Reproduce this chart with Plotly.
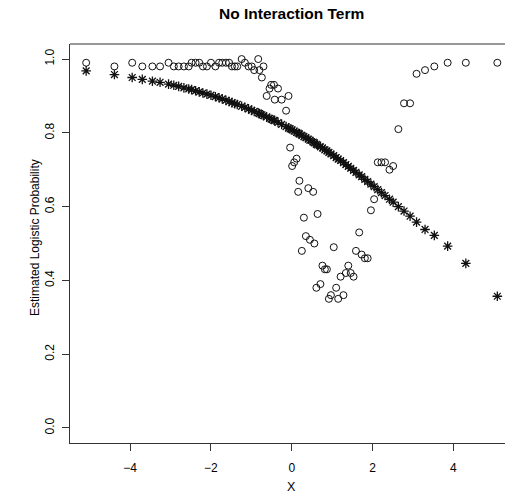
import plotly.graph_objects as go

# X values shared by both series
x_vals = [-5.09, -4.39, -3.95, -3.70, -3.45, -3.26, -3.05, -2.92, -2.80, -2.67,
          -2.55, -2.48, -2.38, -2.29, -2.20, -2.10, -2.00, -1.89, -1.80, -1.72,
          -1.63, -1.55, -1.48, -1.41, -1.35, -1.24, -1.16, -1.07, -0.99, -0.93,
          -0.83, -0.80, -0.74, -0.70, -0.62, -0.55, -0.51, -0.44, -0.42, -0.34,
          -0.25, -0.14, -0.08, -0.04, 0.01, 0.06, 0.12, 0.16, 0.19, 0.25,
          0.30, 0.35, 0.41, 0.45, 0.53, 0.56, 0.61, 0.64, 0.71, 0.76,
          0.82, 0.87, 0.92, 0.97, 1.04, 1.10, 1.15, 1.21, 1.28, 1.34,
          1.40, 1.46, 1.53, 1.59, 1.67, 1.73, 1.81, 1.88, 1.96, 2.04,
          2.13, 2.22, 2.31, 2.42, 2.51, 2.64, 2.78, 2.93, 3.09, 3.30,
          3.53, 3.86, 4.31, 5.09]

# Open circles (true probability)
circle_vals = [0.99, 0.98, 0.99, 0.98, 0.98, 0.98, 0.99, 0.98, 0.98, 0.98,
               0.98, 0.99, 0.99, 0.99, 0.98, 0.98, 0.99, 0.98, 0.99, 0.99,
               0.99, 0.99, 0.98, 0.98, 0.98, 1.00, 0.99, 0.98, 0.98, 0.97,
               1.00, 0.97, 0.95, 0.98, 0.90, 0.92, 0.93, 0.93, 0.89, 0.92,
               0.89, 0.86, 0.90, 0.76, 0.71, 0.72, 0.73, 0.64, 0.67, 0.48,
               0.57, 0.52, 0.65, 0.51, 0.64, 0.50, 0.38, 0.58, 0.39, 0.44,
               0.43, 0.43, 0.35, 0.36, 0.49, 0.38, 0.35, 0.41, 0.36, 0.42,
               0.44, 0.42, 0.41, 0.48, 0.53, 0.47, 0.46, 0.46, 0.59, 0.62,
               0.72, 0.72, 0.72, 0.70, 0.71, 0.81, 0.88, 0.88, 0.96, 0.97,
               0.98, 0.99, 0.99, 0.99]

# Asterisks (estimated logistic probability, no interaction term)
star_vals = [0.968, 0.958, 0.950, 0.945, 0.940, 0.937, 0.932, 0.929, 0.926, 0.922,
             0.919, 0.917, 0.914, 0.911, 0.908, 0.905, 0.902, 0.898, 0.895, 0.892,
             0.888, 0.885, 0.882, 0.879, 0.877, 0.872, 0.869, 0.865, 0.861, 0.858,
             0.854, 0.852, 0.849, 0.847, 0.843, 0.839, 0.837, 0.834, 0.833, 0.828,
             0.823, 0.817, 0.813, 0.811, 0.808, 0.805, 0.801, 0.799, 0.797, 0.793,
             0.790, 0.787, 0.783, 0.780, 0.775, 0.773, 0.769, 0.767, 0.762, 0.759,
             0.754, 0.751, 0.747, 0.743, 0.738, 0.733, 0.729, 0.725, 0.719, 0.714,
             0.709, 0.704, 0.698, 0.693, 0.686, 0.681, 0.674, 0.668, 0.661, 0.654,
             0.646, 0.638, 0.630, 0.620, 0.612, 0.600, 0.588, 0.574, 0.558, 0.538,
             0.522, 0.493, 0.446, 0.357]

x_ticks = [-4, -2, 0, 2, 4]
y_ticks = [0.0, 0.2, 0.4, 0.6, 0.8, 1.0]
y_tick_text = ["0.0", "0.2", "0.4", "0.6", "0.8", "1.0"]

FONT = "Liberation Sans, Arial, Helvetica, sans-serif"
INK = "#111111"

fig = go.Figure()
fig.add_trace(go.Scatter(
    x=x_vals, y=circle_vals, mode="markers",
    marker=dict(symbol="circle-open", size=7, color=INK, line=dict(width=1, color=INK)),
    showlegend=False, hoverinfo="skip"))
fig.add_trace(go.Scatter(
    x=x_vals, y=star_vals, mode="markers",
    marker=dict(symbol="asterisk-open", size=8, color=INK, line=dict(width=1.3, color=INK)),
    showlegend=False, hoverinfo="skip"))

fig.update_layout(
    width=505, height=502,
    margin=dict(l=70, r=0, t=44, b=59),
    paper_bgcolor="white", plot_bgcolor="white",
    font=dict(family=FONT, size=12, color="black"),
    xaxis=dict(range=[-5.49, 5.28], tickvals=x_ticks, ticks="outside", ticklen=7,
               tickwidth=1, tickcolor="#333333", showgrid=False, zeroline=False,
               showline=True, linecolor="#333333", linewidth=1,
               tickfont=dict(size=12, color="black"), ticklabelstandoff=7),
    yaxis=dict(range=[-0.0408, 1.0408], tickvals=y_ticks, ticktext=y_tick_text,
               tickangle=-90, ticks="outside", ticklen=7, tickwidth=1, tickcolor="#333333",
               showgrid=False, zeroline=False, showline=True, linecolor="#333333", linewidth=1,
               tickfont=dict(size=12, color="black"), ticklabelstandoff=3),
    shapes=[dict(type="line", xref="paper", yref="paper", x0=0, x1=1.05, y0=1, y1=1,
                 line=dict(color="#333333", width=1))],
    annotations=[
        dict(text="<b>No Interaction Term</b>", x=0, xref="x", y=(443 - 14) / 399, yref="paper",
             yanchor="middle", xanchor="center", showarrow=False,
             font=dict(size=15.5, family=FONT, color="black")),
        dict(text="X", x=0, xref="x", y=0, yref="paper", yshift=-(487 - 443),
             xanchor="center", yanchor="middle", showarrow=False,
             font=dict(size=12.5, family=FONT, color="black")),
        dict(text="Estimated Logistic Probability", x=0, xref="paper", xshift=-(70 - 35),
             y=(443 - 238) / 399, yref="paper", textangle=-90,
             xanchor="center", yanchor="middle", showarrow=False,
             font=dict(size=12, family=FONT, color="black")),
    ],
)

fig.write_html("out.html")
